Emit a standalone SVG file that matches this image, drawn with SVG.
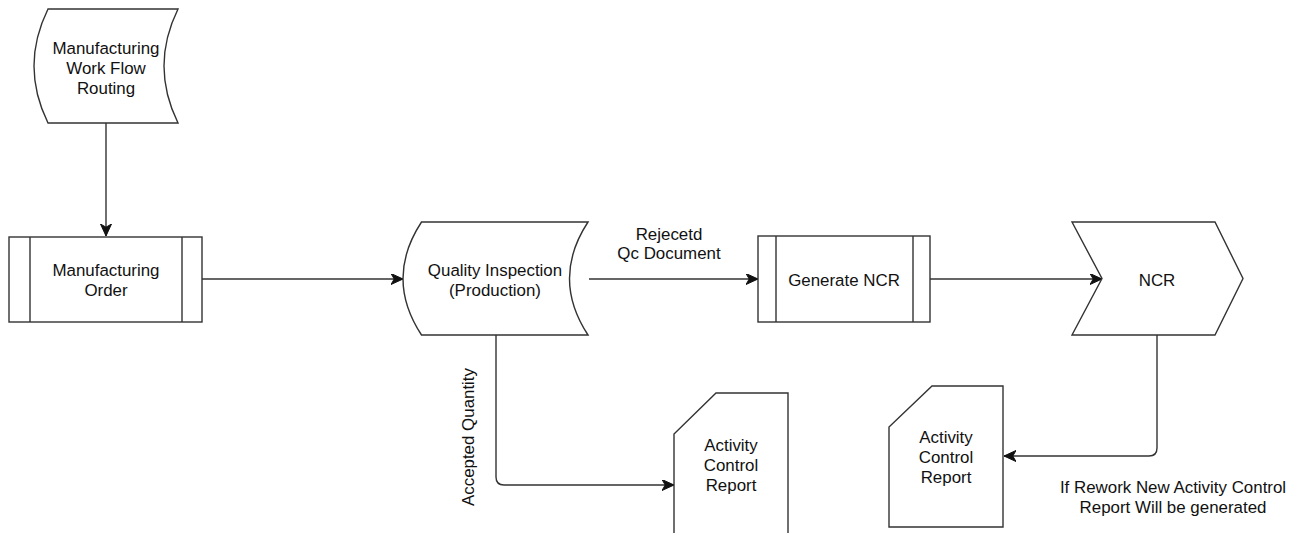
<svg xmlns="http://www.w3.org/2000/svg" width="1301" height="533" viewBox="0 0 1301 533">
<defs>
<style>
.shape{fill:#ffffff;stroke:#333333;stroke-width:1.4;}
.edge{fill:none;stroke:#333333;stroke-width:1.4;}
.t{font-family:"Liberation Sans",Arial,Helvetica,sans-serif;font-size:16.9px;fill:#111111;text-anchor:middle;}
</style>
<marker id="arrow" markerUnits="userSpaceOnUse" markerWidth="13" markerHeight="12" refX="12" refY="5.5" orient="auto" viewBox="0 0 13 12">
<path d="M0,0 L12,5.5 L0,11 L3.2,5.5 Z" fill="#111111" stroke="#111111" stroke-width="1"/>
</marker>
</defs>
<rect x="0" y="0" width="1301" height="533" fill="#ffffff"/>

<g id="connectors">
<path class="edge" d="M106 123 L106 236" marker-end="url(#arrow)"/>
<path class="edge" d="M202 279 L403 279" marker-end="url(#arrow)"/>
<path class="edge" d="M589 279 L758 279" marker-end="url(#arrow)"/>
<path class="edge" d="M930 279 L1102 279" marker-end="url(#arrow)"/>
<path class="edge" d="M496 335 L496 477 Q496 485 504 485 L674 485" marker-end="url(#arrow)"/>
<path class="edge" d="M1157 335 L1157 448 Q1157 456 1149 456 L1004 456" marker-end="url(#arrow)"/>
<text class="t" x="669" y="240">Rejecetd</text>
<text class="t" x="669" y="259">Qc Document</text>
<text class="t" transform="translate(468 437) rotate(-90)" x="0" y="6">Accepted Quantity</text>
<text class="t" x="1173" y="493">If Rework New Activity Control</text>
<text class="t" x="1173" y="513">Report Will be generated</text>
</g>

<g id="node-routing">
<path class="shape" d="M48 9 L178 9 Q150 66 178 123 L48 123 Q20 66 48 9 Z"/>
<text class="t" x="106" y="54">Manufacturing</text>
<text class="t" x="106" y="74">Work Flow</text>
<text class="t" x="106" y="94">Routing</text>
</g>

<g id="node-order">
<rect class="shape" x="9" y="237" width="193" height="85"/>
<path class="edge" d="M30 237 L30 322 M182 237 L182 322"/>
<text class="t" x="106" y="276">Manufacturing</text>
<text class="t" x="106" y="296">Order</text>
</g>

<g id="node-quality">
<path class="shape" d="M421.5 222 L588 222 Q551 278.5 588 335 L421.5 335 Q384.5 278.5 421.5 222 Z"/>
<text class="t" x="495" y="276">Quality Inspection</text>
<text class="t" x="495" y="296">(Production)</text>
</g>

<g id="node-generate">
<rect class="shape" x="758" y="236" width="172" height="86"/>
<path class="edge" d="M776 236 L776 322 M913 236 L913 322"/>
<text class="t" x="844" y="286">Generate NCR</text>
</g>

<g id="node-ncr">
<path class="shape" d="M1072 222 L1215 222 L1243 278.5 L1215 335 L1072 335 L1102 278.5 Z"/>
<text class="t" x="1157" y="286">NCR</text>
</g>

<g id="node-acr1">
<path class="shape" d="M716 393 L788 393 L788 536 L674 536 L674 434 Z"/>
<text class="t" x="731" y="451">Activity</text>
<text class="t" x="731" y="471">Control</text>
<text class="t" x="731" y="491">Report</text>
</g>

<g id="node-acr2">
<path class="shape" d="M932 386 L1003 386 L1003 527 L889 527 L889 427 Z"/>
<text class="t" x="946" y="443">Activity</text>
<text class="t" x="946" y="463">Control</text>
<text class="t" x="946" y="483">Report</text>
</g>
</svg>
